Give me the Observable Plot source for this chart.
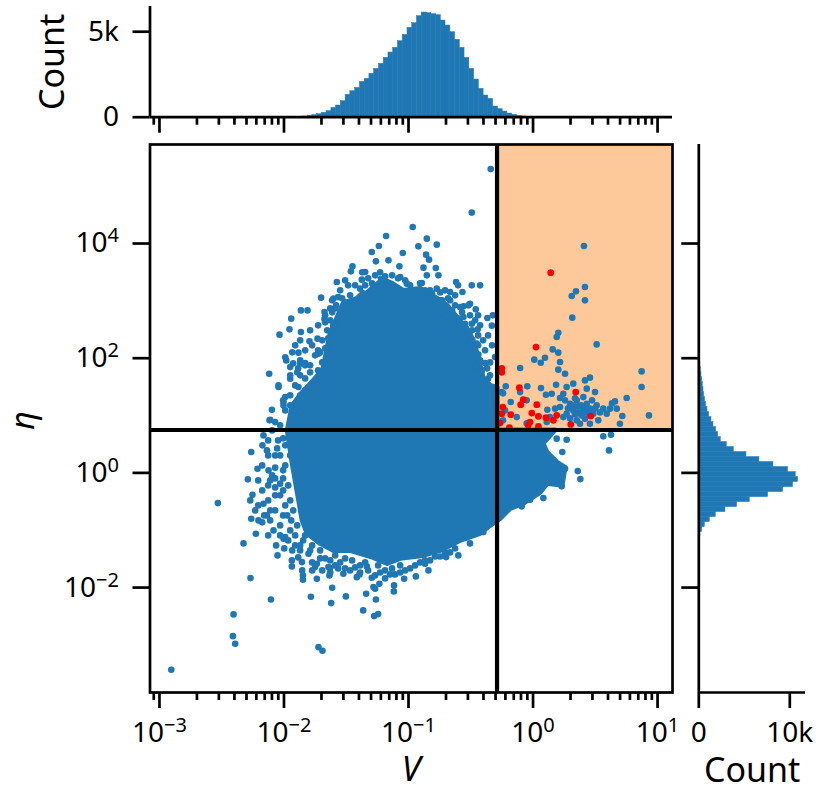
<!DOCTYPE html>
<html><head><meta charset="utf-8">
<style>
html,body{margin:0;padding:0;background:#fff}
#chart{position:relative;width:816px;height:799px;overflow:hidden}
#chart>div{position:absolute}
svg{display:block}
</style>
<script src="https://cdn.jsdelivr.net/npm/d3@7"></script>
<script src="https://cdn.jsdelivr.net/npm/@observablehq/plot@0.6"></script>
</head><body><div id="chart"></div>
<script>
// Thresholds and axis limits
const vCut = 0.514, etaCut = 5.6;
const vDomain = [10 ** -3.076, 10 ** 1.12];
const etaDomain = [10 ** -3.83, 10 ** 5.727];

// Ticks
const vMajor = [1e-3, 1e-2, 1e-1, 1e0, 1e1];
const vMajorLabels = ["10^−3", "10^−2", "10^−1", "10^0", "10^1"];
const vMinor = [9e-4, 2e-3,3e-3,4e-3,5e-3,6e-3,7e-3,8e-3,9e-3, 2e-2,3e-2,4e-2,5e-2,6e-2,7e-2,8e-2,9e-2,
  .2,.3,.4,.5,.6,.7,.8,.9, 2,3,4,5,6,7,8,9];
const etaMajor = [1e-2, 1e0, 1e2, 1e4];
const etaMajorLabels = ["10^−2", "10^0", "10^2", "10^4"];

// Top marginal histogram: log10 V bin edges and counts
const vEdges = [-1.849,-1.810,-1.772,-1.734,-1.696,-1.658,-1.619,-1.581,-1.543,-1.505,-1.467,-1.428,-1.390,-1.352,-1.314,-1.276,
  -1.237,-1.199,-1.161,-1.123,-1.085,-1.046,-1.008,-0.970,-0.932,-0.894,-0.855,-0.817,-0.779,-0.741,-0.703,-0.664,
  -0.626,-0.588,-0.550,-0.512,-0.473,-0.435,-0.397,-0.359,-0.321,-0.282,-0.244,-0.206,-0.168,-0.130,-0.091,-0.053];
const vCounts = [39,78,117,175,253,351,546,682,935,1306,1520,1715,2066,2241,2534,2826,3118,3469,3781,4054,4444,4814,5223,5496,
  5905,6120,6081,6023,5964,5652,5360,4970,4522,4054,3469,2826,2203,1657,1267,1072,624,468,331,214,136,78,39];

// Right marginal histogram: log10 eta bin edges and counts
const etaEdges = [2.020,1.933,1.846,1.758,1.671,1.584,1.497,1.410,1.322,1.235,1.148,1.061,0.974,0.886,0.799,0.712,0.625,0.538,
  0.450,0.363,0.276,0.189,0.102,0.014,-0.073,-0.160,-0.247,-0.334,-0.422,-0.509,-0.596,-0.683,-0.770,-0.858,-0.945,-1.032,-1.119];
const etaCounts = [110,183,220,293,366,439,512,586,695,805,952,1135,1391,1610,1903,2123,2416,3074,3843,5234,6661,8198,9809,
  10651,10907,10358,9260,7613,5600,4209,2928,1867,1208,659,366,183];

// Solid dense core of the scatter (log10 V, log10 eta)
const coreLogV = [-1.228,-1.132,-1.043,-0.907,-0.770,-0.690,-0.610,-0.506,-0.449,-0.401,-0.345,-0.289,-0.289,0.177,0.080,0.112,0.193,0.257,0.233,0.112,0.056,-0.080,-0.185,-0.265,-0.345,-0.425,-0.586,-0.746,-0.883,-1.067,-1.172,-1.284,-1.469,-1.605,-1.709,-1.814,-1.854,-1.886,-1.934,-1.974,-1.934,-1.854,-1.750,-1.685,-1.653,-1.629,-1.525,-1.413,-1.364];
const coreLogEta = [3.393,3.305,3.183,3.218,3.044,2.922,2.712,2.433,2.084,1.666,1.526,1.491,0.750,0.750,0.515,0.358,0.183,0.096,-0.218,-0.183,-0.340,-0.532,-0.619,-0.794,-0.916,-1.055,-1.177,-1.352,-1.439,-1.491,-1.579,-1.474,-1.352,-1.352,-1.230,-1.055,-0.829,-0.427,0.166,0.741,1.177,1.404,1.648,1.823,2.189,2.433,2.956,3.044,3.148];

// Individually visible blue points
const blueLogV = [-0.966,-1.180,-0.853,-1.238,-0.921,-0.773,-1.295,-1.046,-0.859,-0.835,-1.262,-1.161,-1.073,-1.450,-1.463,-0.880,-0.781,-0.760,-0.853,-1.576,-1.348,-1.375,-0.618,-0.492,-0.425,-0.893,-1.067,-1.014,-0.773,-0.666,-0.567,-1.389,-1.702,-1.603,-1.565,-0.666,-0.720,-0.559,-0.506,-0.460,-1.864,-1.811,-1.675,-1.675,-1.942,-0.367,-0.323,-0.680,-0.559,-0.546,-0.640,-0.331,-0.492,-0.444,-1.956,-1.864,-2.036,-1.731,-1.795,-0.586,-0.487,-0.452,-0.439,-1.884,-1.723,-1.982,-1.950,-1.870,-1.830,-2.119,-1.950,-2.044,-0.385,-0.305,-0.457,-0.361,-1.990,-2.097,-2.004,-1.884,-2.116,
  -2.044,-2.111,-2.071,-2.004,-2.165,-2.263,-2.173,-2.137,-2.071,-2.213,-2.124,-2.071,-2.111,-2.290,-2.031,-2.253,-2.071,-2.165,-2.263,-2.205,-2.137,-2.226,-2.084,-2.325,-1.990,-2.052,-1.937,-1.856,-1.910,-1.736,-1.643,-1.803,
  -2.531,-2.269,-2.105,-2.405,-2.410,-2.392,-2.905,-1.723,-1.691,-1.784,-1.613,-1.621,-1.503,-1.364,-1.276,-1.244,-1.262,-1.340,-1.282,-1.234,-1.295,-1.116,-1.118,-1.035,-0.941,-0.840,-1.848,-1.848,-1.736,-1.635,-1.629,-1.937,-1.750,-2.004,-1.523,-1.415,-1.335,-1.108,
  -0.600,-0.698,-1.268,-1.394,-0.867,
  0.083,0.359,0.380,0.270,0.610,0.564,0.626,0.235,0.190,0.257,0.230,-0.024,-0.091,-0.399,-0.532,
  -0.340,-0.492,0.409,0.417,0.417,0.345,0.311,0.315,0.511,0.203,0.190,0.158,0.203,0.096,0.010,0.062,0.217,-0.104,0.203,0.257,0.872,0.872,0.752,0.931,0.717,0.698,0.658,0.457,0.417,0.323,0.185,-0.046,-0.219,0.064,0.270,0.150,0.104,0.498,0.431,0.243,0.217,-0.251,-0.104,-0.179,0.115,-0.051,
  0.297,0.351,0.404,0.431,0.323,0.377,0.270,0.457,0.511,0.564,0.618,0.672,0.484,0.592,0.217,0.177,0.417,0.524,0.457,0.243,0.351,0.361,0.401,0.441,0.321,0.385,0.110,-0.051,0.377,0.136,-0.131,-0.241,-0.225,-0.241,
  -0.853,-0.586,-0.519,-0.572,-0.492,-0.642,-0.532,
  -1.750,-1.710,-1.669,-1.653,-1.693,-1.990,-1.926,-1.870,-1.830,-1.886,-1.950,-1.894,-1.830,-1.790,-1.726,-1.910,-1.830,-1.774,-1.710,-1.870,-1.790,-1.726,-1.950,-2.007,-1.950,-1.894,-1.990,-1.934,-1.870,
  -1.372,-1.324,-1.268,-1.228,-1.348,-1.292,-1.188,-1.132,-1.084,-1.027,-0.987,-1.292,-1.613,-1.581,-1.629,-1.533,-1.469,-1.509,-1.669,-1.629,-1.605,-1.653,-1.613,-1.589,
  -0.907,-0.867,-0.811,-0.746,-0.706,-0.682,-0.626,-0.602,-0.730,-0.827,-0.706,-0.650,-0.602,-0.570,-0.506,-0.538,-0.490,-0.441,-0.546,-0.425,-0.409,-0.369,-0.345,-0.441,
  -1.830,-1.774,-1.710,-1.669,-1.589,-1.549,-1.509,-1.453,-1.389,-1.324,-1.244,-1.188,-1.132,-1.067,-0.987,-0.907,-0.827,-0.746,-0.666,-1.854,-1.774,-1.693,-1.565,-1.469,-1.389,-1.268,-1.188,-1.027,
  -1.934,-1.886,-1.966,-1.870,-2.031,-1.950,-2.007,-1.942,-2.071,-1.990,-2.071,-2.007,-2.031,-1.990,-2.031,-1.990,-2.047,-2.095,-2.031,-2.127,-2.095,-2.175,-2.127,-2.207,-2.111,-2.175,-2.111,-2.031,-2.127,-2.063,-1.998,
  -2.007,-1.966,-1.950,-1.926,-1.974,-1.894,-1.846,-1.790,-1.910,-2.007,-2.071,-2.127,-1.950,-2.007,-2.055,-2.127,-2.175,-2.207,-2.159,-2.231,-2.271,-1.870,-1.710,-1.629,
  -1.589,-1.509,-1.429,-1.348,-1.228,-1.148,-1.067,-0.947,-0.867,-0.787,-0.706,-0.626,-0.506,-1.629,-1.774,
  -0.626,-0.465,-0.425,-0.506,-0.385,-0.345,-0.329,-0.401,-0.361,-0.441,-0.586,-0.746,-0.827,-0.947,
  -1.870,-1.790,-1.726,-1.774,-1.693,-1.645,-1.830,-1.910,-1.934,-1.870,-1.726,-1.669,-1.790,-1.549,-1.485,-1.429,-1.509,
  0.281,0.337,0.393,0.474,0.538,0.634,0.297,0.257,0.361,0.425,0.337,0.498];
const blueLogEta = [4.287,4.130,4.085,3.956,3.951,3.980,3.851,3.834,3.806,3.719,3.689,3.707,3.602,3.602,3.515,3.579,3.572,3.445,3.445,3.328,3.503,3.370,3.328,3.271,3.271,3.311,3.415,3.300,3.213,3.154,3.154,3.213,3.056,3.039,3.066,3.009,2.922,2.904,2.951,2.852,2.834,2.834,2.805,2.678,2.690,2.700,2.747,2.747,2.718,2.602,2.602,2.568,2.602,2.503,2.503,2.456,2.411,2.341,2.294,2.428,2.323,2.254,2.062,2.097,2.079,1.962,1.845,1.905,1.915,1.730,1.643,1.497,1.915,2.020,1.845,1.643,1.322,1.102,1.177,1.497,0.916,
  1.526,0.928,0.886,1.235,0.654,0.363,0.480,0.392,0.305,0.073,0.044,0.091,-0.131,-0.113,-0.188,-0.380,-0.392,-0.537,-0.799,-0.829,-0.741,-1.061,-1.003,-1.230,-1.120,-1.439,-1.526,-1.556,-1.265,-1.584,-1.643,-1.409,
  -0.527,-1.835,-2.207,-2.468,-2.847,-2.979,-3.433,-3.039,-3.101,-2.159,-2.002,-2.271,-2.154,-2.398,-2.498,-2.463,-2.207,-2.107,-1.992,-1.933,-1.828,-1.962,-2.067,-1.845,-1.805,-1.701,-1.788,-1.863,-1.845,-1.788,-1.654,-1.631,-1.643,-1.148,-1.758,-1.818,-1.631,-1.770,
  -1.439,-1.469,-2.020,-1.770,-1.584,
  -0.440,0.031,-0.108,0.579,0.392,0.637,0.666,0.363,0.597,0.073,-0.235,-0.467,-0.584,-1.033,-1.120,
  5.299,4.539,3.956,3.241,3.009,3.166,3.084,2.707,2.241,2.445,2.369,2.154,2.097,2.009,1.975,1.922,1.933,1.828,1.800,1.730,1.770,1.497,1.305,1.003,0.991,0.858,1.247,1.661,1.613,1.556,1.538,1.509,1.509,1.479,1.497,1.381,1.364,1.409,1.469,1.381,1.305,1.409,1.409,1.235,1.102,1.265,
  1.207,1.265,1.322,1.207,1.090,1.033,1.033,1.120,1.177,1.120,1.120,1.120,1.033,1.033,1.148,1.120,0.945,0.916,0.858,0.973,0.916,1.160,1.090,1.038,1.177,1.177,0.886,0.863,0.858,0.973,0.973,1.387,1.090,0.916,
  2.904,2.892,2.922,2.486,2.311,2.369,2.224,
  2.050,2.102,2.172,2.015,1.927,2.015,1.910,1.962,1.875,1.823,1.701,1.753,1.648,1.753,1.788,1.526,1.439,1.526,1.613,1.352,1.299,1.404,1.352,1.265,1.177,1.230,1.090,1.003,1.055,
  3.497,3.393,3.445,3.497,3.271,3.305,3.428,3.445,3.393,3.358,3.271,3.183,3.009,2.922,2.869,3.044,3.096,2.974,2.747,2.660,2.573,2.486,2.800,2.869,
  3.305,3.183,3.131,3.148,3.183,3.044,3.096,3.271,3.009,3.061,2.747,2.834,2.695,2.800,2.747,2.521,2.486,2.398,2.398,1.962,1.788,1.823,1.701,2.224,
  -1.090,-1.265,-1.352,-1.491,-1.439,-1.561,-1.491,-1.526,-1.613,-1.701,-1.613,-1.701,-1.666,-1.613,-1.666,-1.561,-1.526,-1.457,-1.387,-1.701,-1.701,-1.701,-1.666,-1.701,-1.736,-1.788,-1.840,-1.701,
  -1.352,-1.474,-1.177,-1.265,-0.916,-1.003,-0.741,-0.829,-0.654,-0.567,-0.253,-0.096,-0.392,0.131,0.305,0.480,0.567,0.741,0.829,0.567,-0.044,-0.305,-0.480,-0.567,-0.654,-0.863,-0.829,-1.090,-1.090,-1.265,-1.317,
  0.044,-0.218,-0.480,-0.654,-0.741,-0.916,-1.177,-1.352,-1.090,-0.305,-0.096,-0.218,0.305,0.602,0.427,0.305,0.131,-0.131,-0.741,-0.654,-0.480,-1.352,-1.491,-1.526,
  -1.613,-1.666,-1.648,-1.561,-1.736,-1.770,-1.736,-1.613,-1.526,-1.457,-1.387,-1.317,-1.230,-1.736,-1.561,
  2.922,2.660,2.573,2.224,2.137,1.927,2.224,2.311,2.398,2.747,2.573,3.009,3.183,3.183,
  1.701,1.875,2.137,2.224,2.311,2.346,2.137,2.224,2.102,2.311,2.573,2.625,2.486,3.183,3.271,3.271,3.358,
  1.125,1.300,1.003,1.265,1.055,1.212,0.951,1.265,1.055,1.125,1.020,1.125];

// Red points in the highlighted quadrant
const redLogV = [0.142,0.024,-0.251,-0.251,-0.110,0.343,-0.078,-0.099,0.030,-0.243,-0.179,-0.251,-0.010,0.043,0.190,0.163,0.104,0.463,-0.024,-0.038,0.043,0.303,-0.190,-0.265];
const redLogEta = [3.492,2.194,1.823,1.753,1.486,1.409,1.277,1.190,1.190,1.148,1.015,1.033,1.043,0.986,1.003,0.916,0.963,0.991,0.886,0.829,0.811,0.846,0.788,0.869];

const blue = "#1f77b4", lw = 2.7, font = 28;
const style = {background:"none", overflow:"visible", fontFamily:"'Noto Sans', sans-serif", fontSize:font+"px", color:"#000"};
const pts = (xs, ys) => xs.map((x,i)=>({x:10**x, y:10**ys[i]}));
const core = pts(coreLogV, coreLogEta), bluePts = pts(blueLogV, blueLogEta), redPts = pts(redLogV, redLogEta);
const vBins = vCounts.map((c,i)=>({x1:10**vEdges[i], x2:10**vEdges[i+1], c}));
const etaBins = etaCounts.map((c,i)=>({y1:10**etaEdges[i], y2:10**etaEdges[i+1], c}));

function sup(svg){
  svg.querySelectorAll("text").forEach(t=>{
    const m = t.textContent.match(/^10\^(.+)$/);
    if(!m) return;
    t.textContent = "10";
    const s = document.createElementNS("http://www.w3.org/2000/svg","tspan");
    s.setAttribute("dy","-0.5em");
    s.setAttribute("font-size","20");
    s.textContent = m[1];
    t.appendChild(s);
  });
  return svg;
}
function place(svg,left,top){
  const d = document.createElement("div");
  d.style.left = left+"px"; d.style.top = top+"px";
  d.appendChild(sup(svg));
  document.getElementById("chart").appendChild(d);
}
const xLog = {type:"log", domain:vDomain};
const yLog = {type:"log", domain:etaDomain};
const xMinorAxis = Plot.axisX({ticks:vMinor, tickSize:8, strokeWidth:lw, text:null, label:null, anchor:"bottom"});

// Top marginal
place(Plot.plot({
  width:690, height:140, marginLeft:149.5, marginRight:18, marginTop:6, marginBottom:23.3, style,
  x:xLog, y:{domain:[0,6474]},
  marks:[
    Plot.rectY(vBins,{x1:"x1",x2:"x2",y:"c",fill:blue,stroke:blue,strokeWidth:0.5}),
    Plot.axisX({ticks:vMajor, tickSize:16, strokeWidth:lw, text:null, label:null}),
    xMinorAxis,
    Plot.axisY({ticks:[0,5000], tickFormat:d=>d?"5k":"0", tickSize:17, tickPadding:14, strokeWidth:lw, label:null}),
    Plot.ruleX([vDomain[0]],{strokeWidth:lw}),
    Plot.ruleY([0],{strokeWidth:lw}),
    Plot.text(["Count"],{frameAnchor:"left",textAnchor:"middle",dx:-97,rotate:-90,fontSize:34})
  ]
}),0,0);

// Main scatter
place(Plot.plot({
  width:690, height:669, marginLeft:149.5, marginRight:18, marginTop:14, marginBottom:107, style,
  x:xLog, y:yLog,
  marks:[
    Plot.rect([{x1:vCut,x2:vDomain[1],y1:etaCut,y2:etaDomain[1]}],{x1:"x1",x2:"x2",y1:"y1",y2:"y2",fill:"#fdc99b"}),
    Plot.line(core,{x:"x",y:"y",fill:blue,stroke:blue,strokeWidth:5,strokeLinejoin:"round"}),
    Plot.dot(bluePts,{x:"x",y:"y",r:3.3,fill:blue}),
    Plot.dot(redPts,{x:"x",y:"y",r:3.4,fill:"#ff0000"}),
    Plot.ruleX([vCut],{strokeWidth:4.2}),
    Plot.ruleY([etaCut],{strokeWidth:4.2}),
    Plot.axisX({ticks:vMajor, tickFormat:d=>vMajorLabels[vMajor.indexOf(d)], tickSize:16, tickPadding:14, strokeWidth:lw, label:null}),
    xMinorAxis,
    Plot.axisY({ticks:etaMajor, tickFormat:d=>etaMajorLabels[etaMajor.indexOf(d)], tickSize:17, tickPadding:14, strokeWidth:lw, label:null}),
    Plot.frame({stroke:"#000",strokeWidth:lw}),
    Plot.text(["V"],{frameAnchor:"bottom",dy:88,fontSize:34,fontStyle:"italic"}),
    Plot.text(["η"],{frameAnchor:"left",textAnchor:"middle",dx:-126,dy:2,rotate:-90,fontSize:32,fontStyle:"italic"})
  ]
}),0,130);

// Right marginal
place(Plot.plot({
  width:141, height:669, marginLeft:23.3, marginRight:11, marginTop:14, marginBottom:107, style,
  x:{domain:[0,11725]}, y:yLog,
  marks:[
    Plot.rectX(etaBins,{y1:"y1",y2:"y2",x:"c",fill:blue,stroke:blue,strokeWidth:0.5}),
    Plot.axisY({ticks:etaMajor, tickSize:17, strokeWidth:lw, text:null, label:null}),
    Plot.axisX({ticks:[0,10000], tickFormat:d=>d?"10k":"0", tickSize:16, tickPadding:14, strokeWidth:lw, label:null}),
    Plot.ruleX([0],{strokeWidth:lw}),
    Plot.ruleY([etaDomain[0]],{strokeWidth:lw}),
    Plot.text(["Count"],{frameAnchor:"bottom",dy:89,fontSize:34})
  ]
}),675,130);
</script></body></html>
